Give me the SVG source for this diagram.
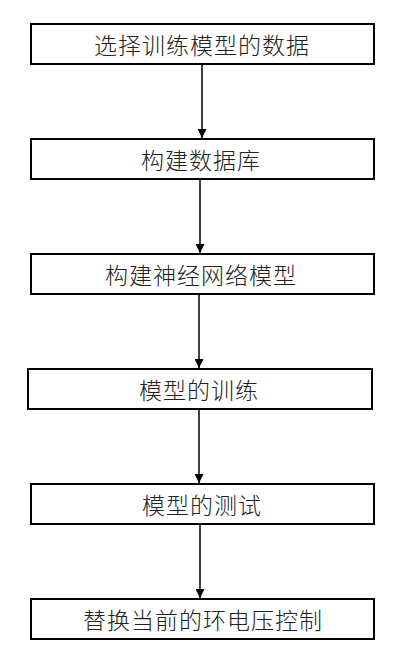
<svg xmlns="http://www.w3.org/2000/svg" width="404" height="656" viewBox="0 0 404 656">
<style>
.box{fill:#fff;stroke:#000;stroke-width:2}
.t{font-family:"Noto Sans CJK SC","Noto Sans CJK JP",sans-serif;font-size:23px;font-weight:300;fill:#222;text-anchor:middle;dominant-baseline:central;letter-spacing:1px}
.c{stroke:#000;stroke-width:1.5;fill:none;marker-end:url(#ah)}
</style>
<defs>
<marker id="ah" markerWidth="9" markerHeight="9" refX="9" refY="4.5" orient="auto" markerUnits="userSpaceOnUse">
<path d="M0,0 L9,4.5 L0,9 Z" fill="#000"/>
</marker>
</defs>
<rect width="404" height="656" fill="#fff"/>
<g id="connectors">
<path class="c" d="M202,64 V138"/>
<path class="c" d="M200,179 V253"/>
<path class="c" d="M199,294 V368"/>
<path class="c" d="M199,409 V483"/>
<path class="c" d="M200,524 V598"/>
</g>
<g id="n1"><rect class="box" x="31" y="24" width="343" height="40"/><text class="t" x="202" y="44">选择训练模型的数据</text></g>
<g id="n2"><rect class="box" x="31" y="139" width="343" height="40"/><text class="t" x="201" y="159">构建数据库</text></g>
<g id="n3"><rect class="box" x="31" y="254" width="343" height="40"/><text class="t" x="201" y="274">构建神经网络模型</text></g>
<g id="n4"><rect class="box" x="28" y="369" width="344" height="40"/><text class="t" x="199" y="389">模型的训练</text></g>
<g id="n5"><rect class="box" x="31" y="484" width="343" height="40"/><text class="t" x="202" y="504">模型的测试</text></g>
<g id="n6"><rect class="box" x="31" y="599" width="343" height="40"/><text class="t" x="203" y="619">替换当前的环电压控制</text></g>
</svg>
